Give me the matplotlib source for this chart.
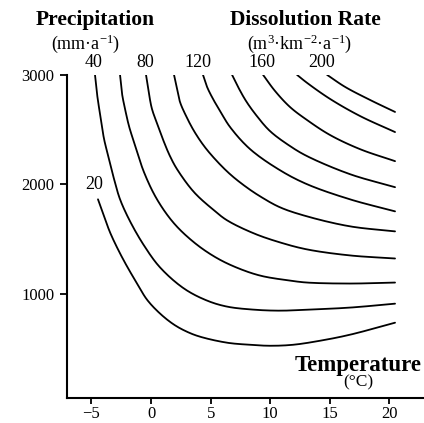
import matplotlib
matplotlib.use("Agg")
import matplotlib.pyplot as plt
import numpy as np

plt.rcParams['font.family'] = ['Liberation Serif', 'DejaVu Serif']
plt.rcParams['mathtext.fontset'] = 'custom'
plt.rcParams['mathtext.rm'] = 'Liberation Serif'
plt.rcParams['mathtext.it'] = 'Liberation Serif:italic'

# temperature (C) / precipitation (mm/a) along each dissolution-rate isoline
rates = [20, 40, 60, 80, 100, 120, 140, 160, 180, 200]

t20 = [-4.45, -3.94, -3.44, -2.77, -2.01, -1.17, -0.34, 0.76, 1.93, 3.02, 4.11, 6.38, 8.31, 9.98,
       11.91, 14.18, 16.69, 20.47]
p20 = [1862, 1706, 1560, 1404, 1248, 1092, 945, 817, 716, 651, 606, 551, 532, 523,
       532, 569, 624, 734]

t40 = [-4.70, -4.53, -4.28, -3.94, -3.52, -3.10, -2.60, -1.76, -0.59, 0.76, 2.77, 4.70, 6.38, 8.64,
       10.82, 13.09, 16.69, 20.47]
p40 = [3000, 2826, 2642, 2413, 2229, 2046, 1862, 1661, 1440, 1239, 1046, 936, 881, 853,
       844, 853, 872, 908]

t60 = [-2.60, -2.43, -2.18, -1.85, -1.43, -0.59, 0.50, 1.93, 3.61, 5.29, 6.96, 9.14, 11.66, 13.09, 16.69, 20.47]
p60 = [3000, 2826, 2688, 2532, 2385, 2110, 1862, 1642, 1468, 1340, 1248, 1165, 1119, 1101, 1092, 1101]

t80 = [-0.42, -0.17, 0.08, 0.59, 1.09, 1.59, 2.18, 3.61, 5.29, 6.38, 8.64, 10.82, 13.09, 16.69, 20.47]
p80 = [3000, 2826, 2688, 2532, 2385, 2257, 2138, 1927, 1761, 1670, 1550, 1468, 1404, 1349, 1321]

t100 = [1.93, 2.18, 2.43, 2.94, 3.61, 4.45, 5.45, 6.63, 7.89, 9.14, 10.82, 13.09, 16.69, 20.47]
p100 = [3000, 2872, 2752, 2624, 2486, 2349, 2220, 2092, 1982, 1890, 1789, 1706, 1615, 1569]

t120 = [4.36, 4.70, 5.20, 5.79, 6.63, 8.31, 10.82, 13.09, 16.69, 20.47]
p120 = [3000, 2890, 2780, 2670, 2523, 2321, 2128, 2000, 1862, 1752]

t140 = [6.80, 7.30, 7.97, 8.81, 9.98, 11.66, 13.09, 16.69, 20.47]
p140 = [3000, 2890, 2761, 2633, 2486, 2349, 2257, 2092, 1973]

t160 = [9.40, 10.40, 11.66, 13.09, 15.02, 17.53, 20.47]
p160 = [3000, 2853, 2706, 2587, 2450, 2321, 2211]

t180 = [12.25, 13.09, 15.02, 17.53, 20.47]
p180 = [3000, 2927, 2780, 2624, 2477]

t200 = [14.77, 16.28, 18.37, 20.47]
p200 = [3000, 2890, 2771, 2661]

temps = [t20, t40, t60, t80, t100, t120, t140, t160, t180, t200]
precs = [p20, p40, p60, p80, p100, p120, p140, p160, p180, p200]

# labelled isolines
lab_rate = ['20', '40', '80', '120', '160', '200']
lab_t = [-4.8, -4.8, -0.5, 3.9, 9.3, 14.3]
lab_p = [2000, 3110, 3110, 3110, 3110, 3110]


def smooth(x, y, n=16):
    # centripetal catmull-rom through the read points, only for a smooth stroke
    sx, sy = 12.0, 0.11
    P = np.column_stack([np.asarray(x) * sx, np.asarray(y) * sy])
    P = np.vstack([2 * P[0] - P[1], P, 2 * P[-1] - P[-2]])
    out = []
    for i in range(1, len(P) - 2):
        p0, p1, p2, p3 = P[i - 1], P[i], P[i + 1], P[i + 2]
        t0 = 0.0
        t1 = t0 + np.linalg.norm(p1 - p0) ** 0.5
        t2 = t1 + np.linalg.norm(p2 - p1) ** 0.5
        t3 = t2 + np.linalg.norm(p3 - p2) ** 0.5
        t = np.linspace(t1, t2, n, endpoint=False)[:, None]
        a1 = (t1 - t) / (t1 - t0) * p0 + (t - t0) / (t1 - t0) * p1
        a2 = (t2 - t) / (t2 - t1) * p1 + (t - t1) / (t2 - t1) * p2
        a3 = (t3 - t) / (t3 - t2) * p2 + (t - t2) / (t3 - t2) * p3
        b1 = (t2 - t) / (t2 - t0) * a1 + (t - t0) / (t2 - t0) * a2
        b2 = (t3 - t) / (t3 - t1) * a2 + (t - t1) / (t3 - t1) * a3
        out.append((t2 - t) / (t2 - t1) * b1 + (t - t1) / (t2 - t1) * b2)
    out.append(P[-2][None, :])
    out = np.vstack(out)
    return out[:, 0] / sx, out[:, 1] / sy


fig = plt.figure(figsize=(4.24, 4.23), dpi=100)
ax = fig.add_axes([0.158, 0.059, 0.842, 0.764])

for t, p in zip(temps, precs):
    cx, cy = smooth(t, p)
    ax.plot(cx, cy, color='black', lw=1.3, solid_capstyle='round')

for s, t, p in zip(lab_rate, lab_t, lab_p):
    ax.text(t, p, s, ha='center', va='center', fontsize=13, clip_on=False)

ax.set_xlim(-7.05, 22.9)
ax.set_ylim(45, 3000)
ax.set_xticks([-5, 0, 5, 10, 15, 20])
ax.set_yticks([1000, 2000, 3000])
ax.tick_params(axis='both', labelsize=12, width=1.3, color='black')
ax.tick_params(axis='y', length=5, pad=4)
ax.tick_params(axis='x', length=4, pad=2)
for side in ['top', 'right']:
    ax.spines[side].set_visible(False)
for side in ['left', 'bottom']:
    ax.spines[side].set_linewidth(1.5)

fig.text(0.224, 0.953, 'Precipitation', ha='center', va='center', fontsize=15.5, fontweight='bold')
fig.text(0.203, 0.897, '(mm·a$^{-1}$)', ha='center', va='center', fontsize=13)
fig.text(0.72, 0.953, 'Dissolution Rate', ha='center', va='center', fontsize=15.5, fontweight='bold')
fig.text(0.706, 0.897, '(m$^{3}$·km$^{-2}$·a$^{-1}$)', ha='center', va='center', fontsize=13)
fig.text(0.995, 0.137, 'Temperature', ha='right', va='center', fontsize=16.5, fontweight='bold')
fig.text(0.844, 0.095, '(°C)', ha='center', va='center', fontsize=12.5)

fig.savefig('out.png', dpi=100)
